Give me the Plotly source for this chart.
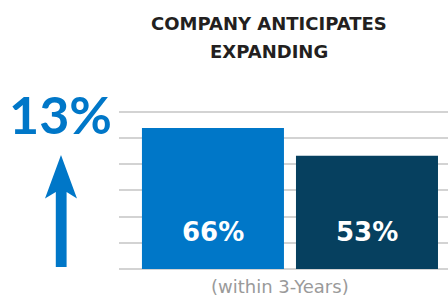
import plotly.graph_objects as go

categories = ["Company A", "Company B"]
values = [66, 53]
labels = ["66%", "53%"]
colors = ["#0077C8", "#06405F"]
headline = "13%"
title_lines = ["COMPANY ANTICIPATES", "EXPANDING"]
xlabel = "(within 3-Years)"

W, H = 448, 297
L, R, T, B = 119, 0, 108, 28
pw, ph = W - L - R, H - T - B

grid_step = 12.26
ymax = grid_step * 6 + 1.85
x_pos = [0, 1]

fig = go.Figure()
fig.add_trace(go.Bar(
    x=x_pos, y=values, marker=dict(color=colors, line=dict(width=0)),
    width=0.922, hoverinfo="skip",
))

for xp, lab in zip(x_pos, labels):
    fig.add_annotation(x=xp, y=0, xref="x", yref="y", text=f"<b>{lab}</b>",
                       showarrow=False, yanchor="middle", yshift=37,
                       font=dict(family="DejaVu Sans", size=26, color="white"))

def px2paper(x, y):
    return (x - L) / pw, (H - B - y) / ph

pts = [(55.8, 267), (55.8, 192), (45, 198.5), (61, 155), (77, 198.5), (66.6, 192), (66.6, 267)]
path = "M " + " L ".join(f"{px2paper(x, y)[0]:.4f},{px2paper(x, y)[1]:.4f}" for x, y in pts) + " Z"
fig.add_shape(type="path", path=path, xref="paper", yref="paper",
              fillcolor="#0077C8", line=dict(width=0), layer="above")

fig.add_annotation(x=px2paper(60, 0)[0], y=px2paper(0, 114)[1], xref="paper", yref="paper",
                   text=f"<b>{headline}</b>", showarrow=False, xanchor="center", yanchor="middle",
                   font=dict(family="Lato", size=52, color="#0077C8"))

for line, ypx in zip(title_lines, [24, 51]):
    fig.add_annotation(x=px2paper(269, 0)[0], y=px2paper(0, ypx)[1], xref="paper", yref="paper",
                       text=f"<b>{line}</b>", showarrow=False, xanchor="center", yanchor="middle",
                       font=dict(family="DejaVu Sans", size=18, color="#231F20"))

fig.add_annotation(x=px2paper(280, 0)[0], y=px2paper(0, 286)[1], xref="paper", yref="paper",
                   text=xlabel, showarrow=False, xanchor="center", yanchor="middle",
                   font=dict(family="DejaVu Sans", size=18, color="#9A9A9A"))

fig.update_layout(
    width=W, height=H, margin=dict(l=L, r=R, t=T, b=B, pad=0),
    paper_bgcolor="white", plot_bgcolor="white", showlegend=False,
    xaxis=dict(range=[-0.61, 0.526 + 1], showgrid=False, zeroline=False,
               showticklabels=False, ticks="", fixedrange=True),
    yaxis=dict(range=[0, ymax], tick0=0, dtick=grid_step, showgrid=True,
               gridcolor="#D3D3D3", gridwidth=2, zeroline=True, zerolinecolor="#D3D3D3",
               zerolinewidth=2, showticklabels=False, ticks="", fixedrange=True),
)

fig.write_html("out.html", config={"displayModeBar": False},
               post_script="document.body.style.margin='0';")
